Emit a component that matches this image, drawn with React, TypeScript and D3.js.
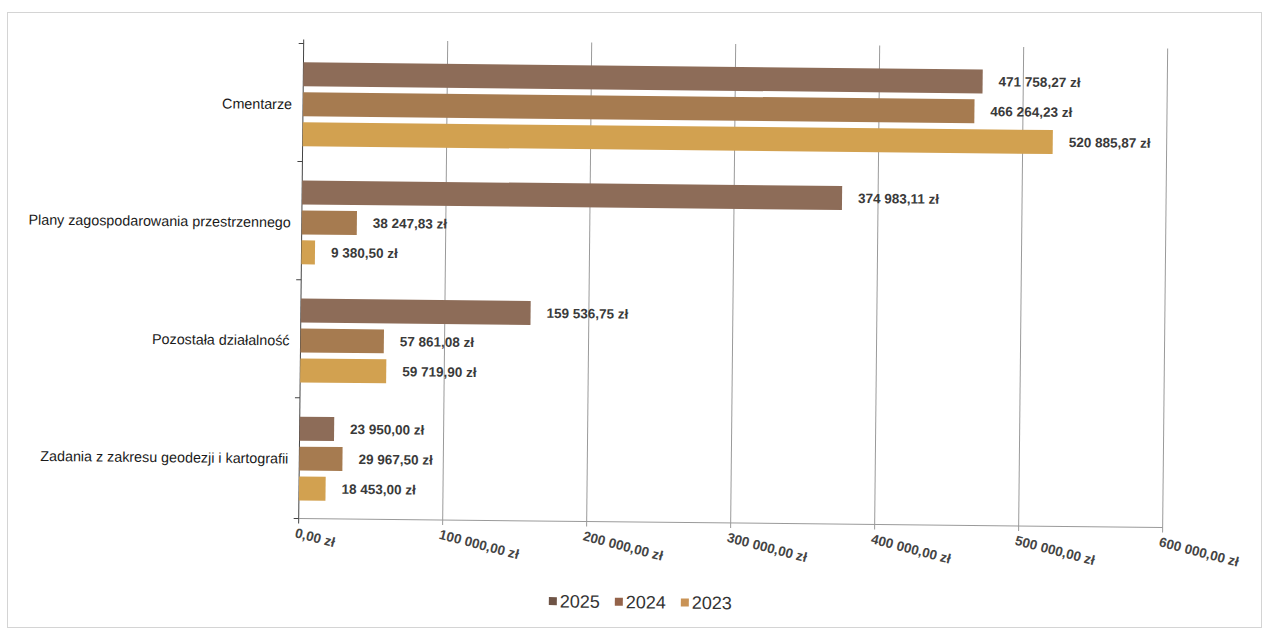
import React from "react";
import * as d3 from "d3";

const categories = [
  "Cmentarze",
  "Plany zagospodarowania przestrzennego",
  "Pozostała działalność",
  "Zadania z zakresu geodezji i kartografii",
];
const years = ["2025", "2024", "2023"];
const values2025 = [471758.27, 374983.11, 159536.75, 23950.0];
const values2024 = [466264.23, 38247.83, 57861.08, 29967.5];
const values2023 = [520885.87, 9380.5, 59719.9, 18453.0];
const xTicks = [0, 100000, 200000, 300000, 400000, 500000, 600000];

const seriesValues: Record<string, number[]> = {
  "2025": values2025,
  "2024": values2024,
  "2023": values2023,
};
const colors: Record<string, string> = {
  "2025": "#8d6c58",
  "2024": "#a67b50",
  "2023": "#d2a150",
};
const legendColors: Record<string, string> = {
  "2025": "#6f5446",
  "2024": "#94634a",
  "2023": "#c99356",
};

const locale = d3.formatLocale({
  decimal: ",",
  thousands: " ",
  grouping: [3],
  currency: ["", " zł"],
});
const fmt = locale.format("$,.2f");

export default function App() {
  const W = 1266;
  const H = 632;
  const x = d3.scaleLinear().domain([0, 600000]).range([301, 1165]);
  const y = d3
    .scaleBand<string>()
    .domain(categories)
    .range([47, 523])
    .paddingInner(0.29)
    .paddingOuter(0.16);
  const yi = d3
    .scaleBand<string>()
    .domain(years)
    .range([0, y.bandwidth()])
    .paddingInner(0.2)
    .paddingOuter(0);
  const top = 43;
  const bottom = 522;
  const step = y.step();
  const boundaries = categories.map((_, i) => 47 + i * step).concat([bottom]);
  const font = "Arial, 'Liberation Sans', sans-serif";

  return (
    <div style={{ position: "absolute", left: 0, top: 0 }}>
      <svg width={W} height={H} style={{ display: "block", background: "#fff" }}>
        <rect x={7.5} y={12.5} width={1254} height={615} fill="none" stroke="#d4d4d4" />
        <g transform="rotate(0.6 640 300)" fontFamily={font}>
          {xTicks.map((t) => (
            <line key={"g" + t} x1={x(t)} x2={x(t)} y1={top} y2={bottom + 5} stroke={t === 0 ? "#444" : "#9a9a9a"} strokeWidth={1} />
          ))}
          <line x1={x(0)} x2={x(600000)} y1={bottom} y2={bottom} stroke="#9a9a9a" />
          {boundaries.map((b, i) => (
            <line key={"b" + i} x1={x(0) - 5} x2={x(0)} y1={b} y2={b} stroke="#444" />
          ))}
          {categories.map((c, ci) => (
            <g key={c} transform={`translate(0,${y(c)})`}>
              {years.map((yr) => {
                const v = seriesValues[yr][ci];
                const yy = yi(yr)!;
                return (
                  <g key={yr}>
                    <rect x={x(0)} y={yy} width={x(v) - x(0)} height={yi.bandwidth()} fill={colors[yr]} />
                    <text x={x(v) + 16} y={yy + yi.bandwidth() / 2} dy="0.35em" fontSize={13.5} fontWeight="bold" fill="#3a3a3a">
                      {fmt(v)}
                    </text>
                  </g>
                );
              })}
              <text x={290} y={y.bandwidth() / 2} dy="0.35em" textAnchor="end" fontSize={14.3} fill="#1a1a1a">
                {c}
              </text>
            </g>
          ))}
          {xTicks.map((t) => (
            <text
              key={"t" + t}
              transform={`translate(${x(t) - 3},${bottom + 14}) rotate(14)`}
              dy="0.35em"
              fontSize={13.5}
              fontWeight="bold"
              fill="#444"
            >
              {fmt(t)}
            </text>
          ))}
          <g transform="translate(0,602)">
            {years.map((yr, i) => {
              const lx = 552 + i * 66;
              return (
                <g key={yr}>
                  <rect x={lx} y={-4} width={8} height={8} fill={legendColors[yr]} />
                  <text x={lx + 11} y={0} dy="0.35em" fontSize={18} fill="#333">
                    {yr}
                  </text>
                </g>
              );
            })}
          </g>
        </g>
      </svg>
    </div>
  );
}
